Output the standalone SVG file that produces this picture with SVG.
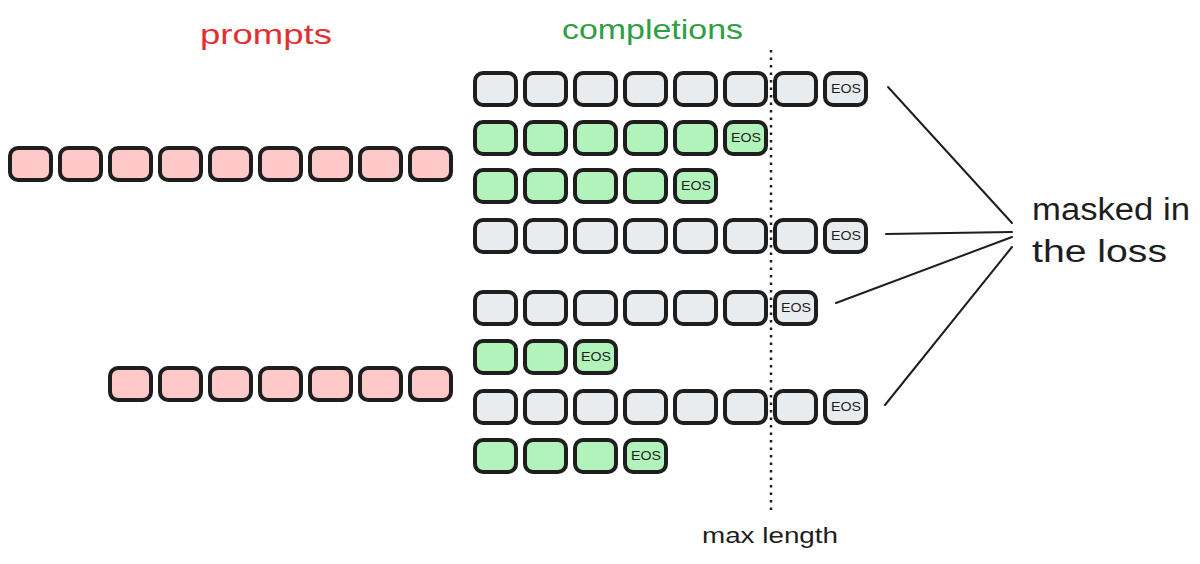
<svg xmlns="http://www.w3.org/2000/svg" width="1200" height="564" viewBox="0 0 1200 564">
<style>
.b{stroke:#1e1e1e;stroke-width:4;}
.g{fill:#e9ecef;}
.gr{fill:#b2f2bb;}
.p{fill:#ffc9c9;}
.eos{font-family:"Liberation Sans",sans-serif;font-size:12px;fill:#1e1e1e;text-anchor:middle;}
.t{font-family:"Liberation Sans",sans-serif;}
.ln{stroke:#1e1e1e;stroke-width:2;fill:none;stroke-linecap:round;}
</style>
<defs>
<rect id="bx" x="2" y="-16" width="41" height="32" rx="8" ry="8"/>
</defs>
<rect width="1200" height="564" fill="#ffffff"/>

<g id="title-prompts"><text class="t" x="200" y="44" font-size="28" fill="#e03131" textLength="132" lengthAdjust="spacingAndGlyphs">prompts</text></g>
<g id="title-completions"><text class="t" x="562" y="39" font-size="28" fill="#2f9e44" textLength="181" lengthAdjust="spacingAndGlyphs">completions</text></g>

<g id="prompt1" class="b p">
<use href="#bx" x="8" y="164"/><use href="#bx" x="58" y="164"/><use href="#bx" x="108" y="164"/><use href="#bx" x="158" y="164"/><use href="#bx" x="208" y="164"/><use href="#bx" x="258" y="164"/><use href="#bx" x="308" y="164"/><use href="#bx" x="358" y="164"/><use href="#bx" x="408" y="164"/>
</g>
<g id="prompt2" class="b p">
<use href="#bx" x="108" y="384"/><use href="#bx" x="158" y="384"/><use href="#bx" x="208" y="384"/><use href="#bx" x="258" y="384"/><use href="#bx" x="308" y="384"/><use href="#bx" x="358" y="384"/><use href="#bx" x="408" y="384"/>
</g>

<g id="comp1">
<g class="b g"><use href="#bx" x="473" y="89"/><use href="#bx" x="523" y="89"/><use href="#bx" x="573" y="89"/><use href="#bx" x="623" y="89"/><use href="#bx" x="673" y="89"/><use href="#bx" x="723" y="89"/><use href="#bx" x="773" y="89"/><use href="#bx" x="823" y="89"/></g>
<text class="eos" x="846" y="93" textLength="30" lengthAdjust="spacingAndGlyphs">EOS</text>
</g>
<g id="comp2">
<g class="b gr"><use href="#bx" x="473" y="138"/><use href="#bx" x="523" y="138"/><use href="#bx" x="573" y="138"/><use href="#bx" x="623" y="138"/><use href="#bx" x="673" y="138"/><use href="#bx" x="723" y="138"/></g>
<text class="eos" x="746" y="142" textLength="30" lengthAdjust="spacingAndGlyphs">EOS</text>
</g>
<g id="comp3">
<g class="b gr"><use href="#bx" x="473" y="186"/><use href="#bx" x="523" y="186"/><use href="#bx" x="573" y="186"/><use href="#bx" x="623" y="186"/><use href="#bx" x="673" y="186"/></g>
<text class="eos" x="696" y="190" textLength="30" lengthAdjust="spacingAndGlyphs">EOS</text>
</g>
<g id="comp4">
<g class="b g"><use href="#bx" x="473" y="236"/><use href="#bx" x="523" y="236"/><use href="#bx" x="573" y="236"/><use href="#bx" x="623" y="236"/><use href="#bx" x="673" y="236"/><use href="#bx" x="723" y="236"/><use href="#bx" x="773" y="236"/><use href="#bx" x="823" y="236"/></g>
<text class="eos" x="846" y="240" textLength="30" lengthAdjust="spacingAndGlyphs">EOS</text>
</g>
<g id="comp5">
<g class="b g"><use href="#bx" x="473" y="308"/><use href="#bx" x="523" y="308"/><use href="#bx" x="573" y="308"/><use href="#bx" x="623" y="308"/><use href="#bx" x="673" y="308"/><use href="#bx" x="723" y="308"/><use href="#bx" x="773" y="308"/></g>
<text class="eos" x="796" y="312" textLength="30" lengthAdjust="spacingAndGlyphs">EOS</text>
</g>
<g id="comp6">
<g class="b gr"><use href="#bx" x="473" y="357"/><use href="#bx" x="523" y="357"/><use href="#bx" x="573" y="357"/></g>
<text class="eos" x="596" y="361" textLength="30" lengthAdjust="spacingAndGlyphs">EOS</text>
</g>
<g id="comp7">
<g class="b g"><use href="#bx" x="473" y="407"/><use href="#bx" x="523" y="407"/><use href="#bx" x="573" y="407"/><use href="#bx" x="623" y="407"/><use href="#bx" x="673" y="407"/><use href="#bx" x="723" y="407"/><use href="#bx" x="773" y="407"/><use href="#bx" x="823" y="407"/></g>
<text class="eos" x="846" y="411" textLength="30" lengthAdjust="spacingAndGlyphs">EOS</text>
</g>
<g id="comp8">
<g class="b gr"><use href="#bx" x="473" y="456"/><use href="#bx" x="523" y="456"/><use href="#bx" x="573" y="456"/><use href="#bx" x="623" y="456"/></g>
<text class="eos" x="646" y="460" textLength="30" lengthAdjust="spacingAndGlyphs">EOS</text>
</g>

<g id="max-length">
<line x1="771" y1="50" x2="771" y2="512" stroke="#1e1e1e" stroke-width="2.5" stroke-dasharray="2.5 5"/>
<text class="t" x="702" y="543" font-size="22" fill="#1e1e1e" textLength="136" lengthAdjust="spacingAndGlyphs">max length</text>
</g>

<g id="connectors">
<line class="ln" x1="888" y1="87" x2="1012" y2="223"/>
<line class="ln" x1="886" y1="234" x2="1012" y2="232"/>
<line class="ln" x1="836" y1="303" x2="1012" y2="237"/>
<line class="ln" x1="885" y1="405" x2="1012" y2="247"/>
</g>

<g id="masked-label">
<text class="t" x="1032" y="220" font-size="31" fill="#1e1e1e" textLength="158" lengthAdjust="spacingAndGlyphs">masked in</text>
<text class="t" x="1032" y="262" font-size="31" fill="#1e1e1e" textLength="135" lengthAdjust="spacingAndGlyphs">the loss</text>
</g>
</svg>
